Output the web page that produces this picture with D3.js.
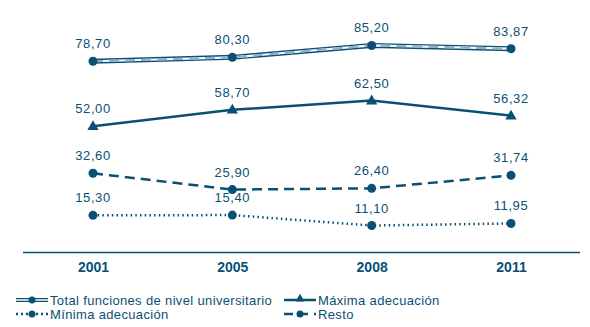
<!DOCTYPE html>
<html><head><meta charset="utf-8">
<script src="https://cdn.jsdelivr.net/npm/d3@7"></script>
<style>body{margin:0;background:#fff}svg{display:block}text{font-family:"Liberation Sans",Arial,sans-serif}</style>
</head><body>
<svg id="c" width="590" height="327"></svg>
<script>
const years = ["2001","2005","2008","2011"];
const total = [78.70, 80.30, 85.20, 83.87];
const maxima = [52.00, 58.70, 62.50, 56.32];
const resto = [32.60, 25.90, 26.40, 31.74];
const minima = [15.30, 15.40, 11.10, 11.95];
const seriesNames = ["Total funciones de nivel universitario","Máxima adecuación","Mínima adecuación","Resto"];

const C = "#0b4f75", LIGHT = "#8fb0c6";
const svg = d3.select("#c");
const x = d3.scalePoint().domain(years).range([93, 511]);
const y = d3.scaleLinear().domain([0, 100]).range([252.5, 9.5]);
const fmt = v => v.toFixed(2).replace(".", ",");

const xAxis = d3.axisBottom(x).tickSize(0).tickPadding(10);
const gx = svg.append("g").attr("transform", `translate(0,${y(0)})`).call(xAxis);
gx.select(".domain").attr("d", "M23,0H580").attr("stroke", C).attr("stroke-width", 1.5);
gx.selectAll("text").attr("font-size", 14).attr("font-weight", "bold").attr("fill", C)
  .attr("font-family", "Liberation Sans, Arial, sans-serif");

const line = d3.line().x((d, i) => x(years[i])).y(d => y(d));

function labels(vals) {
  svg.append("g").selectAll("text").data(vals).join("text")
    .attr("x", (d, i) => x(years[i])).attr("y", d => y(d) - 13)
    .attr("text-anchor", "middle").attr("font-size", 13).attr("letter-spacing", 0.6).attr("fill", C).text(fmt);
}
function circles(vals) {
  svg.append("g").selectAll("circle").data(vals).join("circle")
    .attr("cx", (d, i) => x(years[i])).attr("cy", d => y(d)).attr("r", 4.5).attr("fill", C);
}
const tri = d3.symbol().type(d3.symbolTriangle).size(55);

// Total (double line)
svg.append("path").attr("d", line(total)).attr("fill", "none").attr("stroke", C).attr("stroke-width", 5);
svg.append("path").attr("d", line(total)).attr("fill", "none").attr("stroke", "#fff").attr("stroke-width", 2.2);
svg.append("path").attr("d", line(total)).attr("fill", "none").attr("stroke", LIGHT).attr("stroke-width", 2.2)
  .attr("stroke-dasharray", "10,6");
circles(total); labels(total);

// Maxima
svg.append("path").attr("d", line(maxima)).attr("fill", "none").attr("stroke", C).attr("stroke-width", 2.5);
svg.append("g").selectAll("path").data(maxima).join("path")
  .attr("d", tri).attr("transform", (d, i) => `translate(${x(years[i])},${y(d) + 0.5})`).attr("fill", C);
labels(maxima);

// Resto
svg.append("path").attr("d", line(resto)).attr("fill", "none").attr("stroke", C).attr("stroke-width", 2.5)
  .attr("stroke-dasharray", "10,6");
circles(resto); labels(resto);

// Minima
svg.append("path").attr("d", line(minima)).attr("fill", "none").attr("stroke", C).attr("stroke-width", 2.5)
  .attr("stroke-dasharray", "1.5,3.2");
circles(minima); labels(minima);

// Legend
const leg = [
  {name: seriesNames[0], x: 16, y: 300, type: "double", marker: "circle"},
  {name: seriesNames[1], x: 284, y: 300, type: "solid", marker: "tri"},
  {name: seriesNames[2], x: 16, y: 314, type: "dot", marker: "circle"},
  {name: seriesNames[3], x: 284, y: 314, type: "dash", marker: "circle"}
];
leg.forEach(l => {
  const g = svg.append("g");
  const x0 = l.x, x1 = l.x + 32, cx = l.x + 16;
  if (l.type === "double") {
    g.append("line").attr("x1", x0).attr("x2", x1).attr("y1", l.y).attr("y2", l.y).attr("stroke", C).attr("stroke-width", 4);
    g.append("line").attr("x1", x0).attr("x2", x1).attr("y1", l.y).attr("y2", l.y).attr("stroke", "#fff").attr("stroke-width", 1.5);
  } else {
    const da = l.type === "dot" ? "2,3" : l.type === "dash" ? "9,6" : null;
    g.append("line").attr("x1", x0).attr("x2", x1).attr("y1", l.y).attr("y2", l.y).attr("stroke", C).attr("stroke-width", 2.5)
      .attr("stroke-dasharray", da);
  }
  if (l.marker === "circle") g.append("circle").attr("cx", cx).attr("cy", l.y).attr("r", 3.5).attr("fill", C);
  else g.append("path").attr("d", d3.symbol().type(d3.symbolTriangle).size(35)).attr("transform", `translate(${cx},${l.y - 1})`).attr("fill", C);
  g.append("text").attr("x", x1 + 2).attr("y", l.y + 4.5).attr("font-size", 13).attr("letter-spacing", 0.35).attr("fill", C).text(l.name);
});
</script>
</body></html>
